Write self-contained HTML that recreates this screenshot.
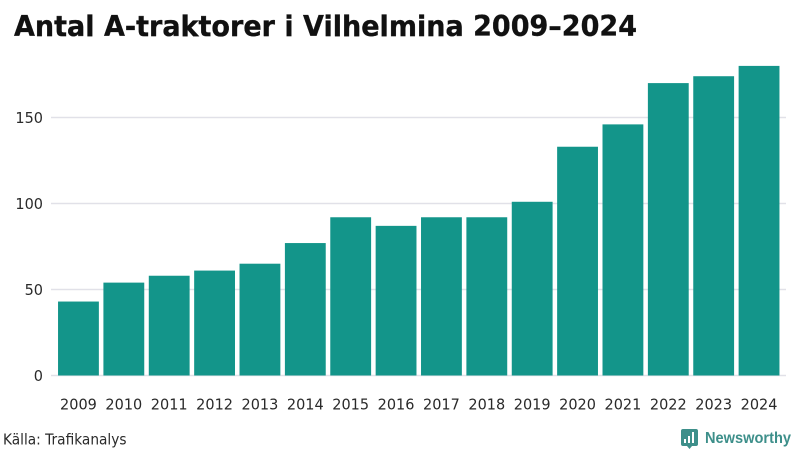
<!DOCTYPE html>
<html lang="sv">
<head>
<meta charset="utf-8">
<title>Antal A-traktorer i Vilhelmina 2009–2024</title>
<style>
html,body{margin:0;padding:0;background:#fff;width:800px;height:450px;overflow:hidden}
svg{display:block}
text{font-family:"DejaVu Sans","Liberation Sans",sans-serif}
</style>
</head>
<body>
<svg id="chart" width="800" height="450" viewBox="0 0 800 450" xmlns="http://www.w3.org/2000/svg">
  <rect width="800" height="450" fill="#ffffff"/>
  <text x="14" y="36" font-size="28.500" font-weight="700" fill="#111111" stroke="#111111" stroke-width="0.350" textLength="623" lengthAdjust="spacingAndGlyphs">Antal A-traktorer i Vilhelmina 2009–2024</text>
  <g id="grid"></g>
  <g id="yaxis"></g>
  <g id="bars"></g>
  <g id="xaxis"></g>
  <text x="3" y="444.500" font-size="15" fill="#2a2a2a" textLength="123.500" lengthAdjust="spacingAndGlyphs">Källa: Trafikanalys</text>
  <g>
    <path d="M683 429h13a2 2 0 0 1 2 2v13a2 2 0 0 1-2 2h-4l-2.500 3-2.500-3h-4a2 2 0 0 1-2-2v-13a2 2 0 0 1 2-2z" fill="#3d8f8a"/>
    <rect x="684" y="439" width="2" height="4" fill="#ffffff"/>
    <rect x="688" y="436" width="2" height="7" fill="#ffffff"/>
    <rect x="692" y="432" width="2" height="11" fill="#ffffff"/>
    <text x="705" y="443" font-size="15.500" font-weight="700" fill="#3d8f8a" style="font-family:'Liberation Sans',sans-serif" textLength="86" lengthAdjust="spacingAndGlyphs">Newsworthy</text>
  </g>
</svg>
<script>
const categories = ["2009","2010","2011","2012","2013","2014","2015","2016","2017","2018","2019","2020","2021","2022","2023","2024"];
const seriesValues = [43,54,58,61,65,77,92,87,92,92,101,133,146,170,174,180];
const yTickValues = [0,50,100,150];

const SVG_NS = "http://www.w3.org/2000/svg";
const baselineY = 375.5;
const pixelsPerUnit = 1.72;
const bandStart = 53.5;
const bandEnd = 784;
const bandPadding = 0.1;
const bandStep = (bandEnd - bandStart) / (categories.length + bandPadding);
const barWidth = bandStep * (1 - bandPadding);

function yScale(value) {
  return baselineY - value * pixelsPerUnit;
}
function xScale(index) {
  return bandStart + bandStep * bandPadding + index * bandStep;
}
function make(tag, attrs, parent, content) {
  const el = document.createElementNS(SVG_NS, tag);
  Object.keys(attrs).forEach(function (key) {
    el.setAttribute(key, attrs[key]);
  });
  if (content !== undefined) el.textContent = content;
  parent.appendChild(el);
  return el;
}

const gridGroup = document.getElementById("grid");
const yAxisGroup = document.getElementById("yaxis");
const barsGroup = document.getElementById("bars");
const xAxisGroup = document.getElementById("xaxis");

yTickValues.forEach(function (tick) {
  const y = yScale(tick);
  const line = make("line", {x1: 51, x2: 786, y1: y, y2: y, stroke: "#e1e1e8", "stroke-width": 1.5}, gridGroup);
  
  
  const tickText = String(tick);
  const label = make("text", {x: 43, y: y + 5.5, "text-anchor": "end", "font-size": 15, fill: "#2a2a2a", textLength: tickText.length * 9.2, lengthAdjust: "spacingAndGlyphs"}, yAxisGroup, tickText);
  
  
});

seriesValues.forEach(function (value, i) {
  const top = yScale(value);
  const bar = make("rect", {x: xScale(i), y: top, width: barWidth, height: baselineY - top, fill: "#13958a"}, barsGroup);
  
  
  const label = make("text", {x: xScale(i) + barWidth / 2, y: 409.5, "text-anchor": "middle", "font-size": 15, fill: "#2a2a2a", textLength: 36.8, lengthAdjust: "spacingAndGlyphs"}, xAxisGroup, categories[i]);
  
  
});
</script>
</body>
</html>
